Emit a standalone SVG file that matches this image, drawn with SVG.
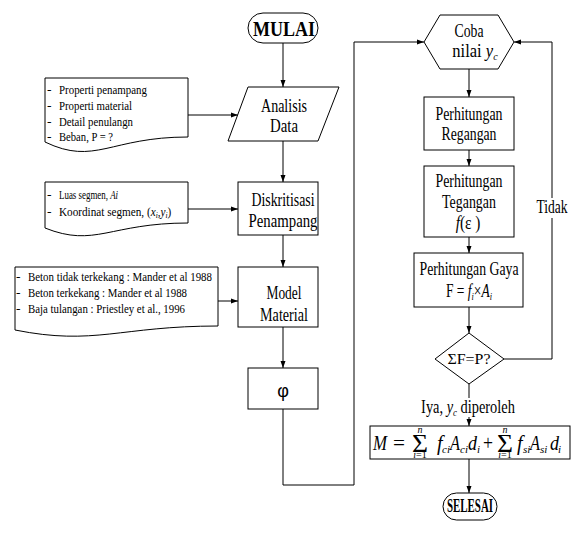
<svg xmlns="http://www.w3.org/2000/svg" width="574" height="548" viewBox="0 0 574 548">
<style>
.s{fill:#fff;stroke:#000;stroke-width:1}
.c{fill:none;stroke:#000;stroke-width:1}
text{font-family:"Liberation Serif","Times New Roman",serif;fill:#000}
.t{font-size:18px;text-anchor:middle}
.d{font-size:13.5px}
.b{font-weight:bold;text-anchor:middle}
.i{font-style:italic}
.f{font-size:20px;font-style:italic}
.g{font-size:22px}
.l{font-size:10px;font-style:italic;text-anchor:middle}
.u{font-size:11px;font-style:italic}
</style>
<defs>
<marker id="a" markerUnits="userSpaceOnUse" markerWidth="7" markerHeight="6" refX="7" refY="3" orient="auto">
<path d="M0,0.5 L7,3 L0,5.5 z" fill="#000"/>
</marker>
</defs>
<g id="connectors">
<path class="c" d="M283,43 V87" marker-end="url(#a)"/>
<path class="c" d="M188,115 H238" marker-end="url(#a)"/>
<path class="c" d="M283,141 V182" marker-end="url(#a)"/>
<path class="c" d="M188,209 H238" marker-end="url(#a)"/>
<path class="c" d="M283,235 V267" marker-end="url(#a)"/>
<path class="c" d="M218,301 H238" marker-end="url(#a)"/>
<path class="c" d="M283,327 V368" marker-end="url(#a)"/>
<path class="c" d="M283,409 V485 H354 V42 H424" marker-end="url(#a)"/>
<path class="c" d="M469,69 V97" marker-end="url(#a)"/>
<path class="c" d="M469,150 V166" marker-end="url(#a)"/>
<path class="c" d="M469,237 V253" marker-end="url(#a)"/>
<path class="c" d="M469,307 V333" marker-end="url(#a)"/>
<path class="c" d="M504,359 H552 V218"/>
<path class="c" d="M552,198 V42 H514" marker-end="url(#a)"/>
<text class="t" x="552" y="213" textLength="31" lengthAdjust="spacingAndGlyphs">Tidak</text>
<path class="c" d="M469,384 V398"/>
<path class="c" d="M469,417 V426" marker-end="url(#a)"/>
<text class="t" transform="translate(468,413) scale(0.8,1)">Iya, <tspan class="i">y</tspan><tspan class="i" font-size="11" dy="3">c</tspan><tspan dy="-3"> diperoleh</tspan></text>
<path class="c" d="M469,459 V493" marker-end="url(#a)"/>
</g>
<g id="mulai">
<rect class="s" x="248" y="13" width="70" height="30" rx="15"/>
<text class="b" x="284" y="36" font-size="22" textLength="62" lengthAdjust="spacingAndGlyphs">MULAI</text>
</g>
<g id="analisis-data">
<polygon class="s" points="248,87 339,87 318,141 228,141"/>
<text class="t" x="284" y="112" textLength="46" lengthAdjust="spacingAndGlyphs">Analisis</text>
<text class="t" x="284" y="132" textLength="28" lengthAdjust="spacingAndGlyphs">Data</text>
</g>
<g id="doc-input">
<path class="s" d="M45,78 H188 V137 C110,137 95,166 45,142 Z"/>
<text class="d" x="47" y="94">-</text>
<text class="d" x="59" y="94" textLength="88" lengthAdjust="spacingAndGlyphs">Properti penampang</text>
<text class="d" x="47" y="110">-</text>
<text class="d" x="59" y="110" textLength="73" lengthAdjust="spacingAndGlyphs">Properti material</text>
<text class="d" x="47" y="126">-</text>
<text class="d" x="59" y="126" textLength="74" lengthAdjust="spacingAndGlyphs">Detail penulangn</text>
<text class="d" x="47" y="141">-</text>
<text class="d" x="59" y="141" textLength="54" lengthAdjust="spacingAndGlyphs">Beban, P = ?</text>
</g>
<g id="diskritisasi">
<rect class="s" x="238" y="182" width="80" height="53"/>
<text class="t" x="283" y="206" textLength="63" lengthAdjust="spacingAndGlyphs">Diskritisasi</text>
<text class="t" x="283" y="227" textLength="69" lengthAdjust="spacingAndGlyphs">Penampang</text>
</g>
<g id="doc-segmen">
<path class="s" d="M45,182 H188 V223 C110,223 95,248 45,228 Z"/>
<text class="d" x="47" y="199">-</text>
<text class="d" transform="translate(59,199) scale(0.66,1)">Luas segmen, <tspan class="i">Ai</tspan></text>
<text class="d" x="47" y="216">-</text>
<text class="d" transform="translate(59,216) scale(0.83,1)">Koordinat segmen, (<tspan class="i">x</tspan><tspan class="i" font-size="9" dy="2">i</tspan><tspan dy="-2">,</tspan><tspan class="i">y</tspan><tspan class="i" font-size="9" dy="2">i</tspan><tspan dy="-2">)</tspan></text>
</g>
<g id="model-material">
<rect class="s" x="238" y="267" width="80" height="60"/>
<text class="t" x="284" y="299" textLength="35" lengthAdjust="spacingAndGlyphs">Model</text>
<text class="t" x="284" y="321" textLength="48" lengthAdjust="spacingAndGlyphs">Material</text>
</g>
<g id="doc-material">
<path class="s" d="M15,267 H218 V326 C120,326 95,346 15,330 Z"/>
<text class="d" x="16" y="281">-</text>
<text class="d" x="28" y="281" textLength="184" lengthAdjust="spacingAndGlyphs">Beton tidak terkekang : Mander et al 1988</text>
<text class="d" x="16" y="297">-</text>
<text class="d" x="28" y="297" textLength="159" lengthAdjust="spacingAndGlyphs">Beton terkekang : Mander et al 1988</text>
<text class="d" x="16" y="313">-</text>
<text class="d" x="28" y="313" textLength="157" lengthAdjust="spacingAndGlyphs">Baja tulangan : Priestley et al., 1996</text>
</g>
<g id="phi">
<rect class="s" x="248" y="368" width="70" height="41"/>
<text x="283" y="397" font-size="18" text-anchor="middle" style="font-family:'Liberation Sans',Arial,sans-serif">φ</text>
</g>
<g id="coba">
<polygon class="s" points="424,42 440,15 498,15 514,42 498,69 440,69"/>
<text class="t" x="469" y="37" textLength="29" lengthAdjust="spacingAndGlyphs">Coba</text>
<text class="t" transform="translate(475,57) scale(0.92,1)">nilai <tspan class="i">y</tspan><tspan class="i" font-size="11" dy="3">c</tspan></text>
</g>
<g id="regangan">
<rect class="s" x="424" y="97" width="90" height="53"/>
<text class="t" x="469" y="120" textLength="67" lengthAdjust="spacingAndGlyphs">Perhitungan</text>
<text class="t" x="469" y="140" textLength="55" lengthAdjust="spacingAndGlyphs">Regangan</text>
</g>
<g id="tegangan">
<rect class="s" x="424" y="166" width="90" height="71"/>
<text class="t" x="469" y="187" textLength="67" lengthAdjust="spacingAndGlyphs">Perhitungan</text>
<text class="t" x="469" y="208" textLength="54" lengthAdjust="spacingAndGlyphs">Tegangan</text>
<text class="t" transform="translate(468,229) scale(0.85,1)"><tspan class="i">f</tspan>(ε )</text>
</g>
<g id="gaya">
<rect class="s" x="414" y="253" width="109" height="54"/>
<text class="t" x="469" y="275" textLength="99" lengthAdjust="spacingAndGlyphs">Perhitungan Gaya</text>
<text class="t" transform="translate(469,297) scale(0.75,1)">F = <tspan class="i">f</tspan><tspan class="i" font-size="11" dy="3">i</tspan><tspan dy="-3">×</tspan><tspan class="i">A</tspan><tspan class="i" font-size="11" dy="3">i</tspan></text>
</g>
<g id="cek">
<polygon class="s" points="469,333 504,359 469,384 435,359"/>
<text x="469" y="364" font-size="14" text-anchor="middle" textLength="43" lengthAdjust="spacingAndGlyphs">ΣF=P?</text>
</g>
<g id="momen">
<rect class="s" x="370" y="426" width="200" height="33"/>
<text class="f" x="373" y="450" textLength="14" lengthAdjust="spacingAndGlyphs">M</text>
<text class="g" x="393" y="450" textLength="12" lengthAdjust="spacingAndGlyphs">=</text>
<text x="412" y="452" font-size="26" textLength="16" lengthAdjust="spacingAndGlyphs">Σ</text>
<text class="l" x="420" y="433">n</text>
<text class="l" x="420" y="458">i<tspan font-style="normal">=1</tspan></text>
<text class="f" x="437" y="450">f</text>
<text class="u" x="442" y="453">ci</text>
<text class="f" x="450" y="450" textLength="10" lengthAdjust="spacingAndGlyphs">A</text>
<text class="u" x="460" y="453">ci</text>
<text class="f" x="468" y="450" textLength="9" lengthAdjust="spacingAndGlyphs">d</text>
<text class="u" x="477" y="453">i</text>
<text class="g" x="483" y="450" textLength="10" lengthAdjust="spacingAndGlyphs">+</text>
<text x="497" y="452" font-size="26" textLength="16" lengthAdjust="spacingAndGlyphs">Σ</text>
<text class="l" x="505" y="433">n</text>
<text class="l" x="505" y="458">i<tspan font-style="normal">=1</tspan></text>
<text class="f" x="517" y="450">f</text>
<text class="u" x="523" y="453">si</text>
<text class="f" x="530" y="450" textLength="10" lengthAdjust="spacingAndGlyphs">A</text>
<text class="u" x="540" y="453">si</text>
<text class="f" x="550" y="450" textLength="9" lengthAdjust="spacingAndGlyphs">d</text>
<text class="u" x="558" y="453">i</text>
</g>
<g id="selesai">
<rect class="s" x="443" y="493" width="54" height="27" rx="13.5"/>
<text class="b" x="470" y="512" font-size="18" textLength="46" lengthAdjust="spacingAndGlyphs">SELESAI</text>
</g>
</svg>
